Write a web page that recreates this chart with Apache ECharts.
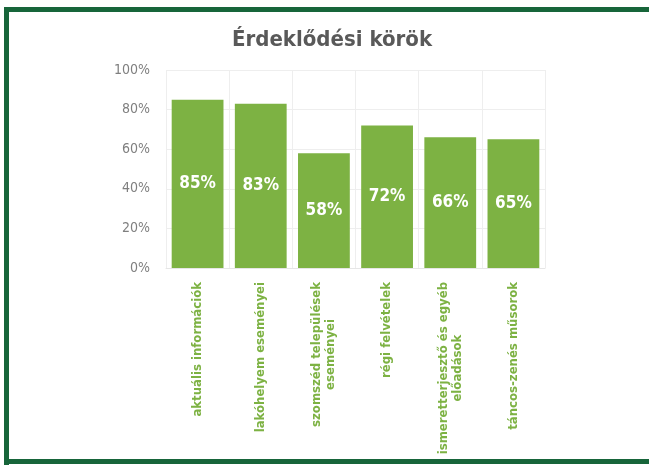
<!DOCTYPE html>
<html>
<head>
<meta charset="utf-8">
<script src="https://cdn.jsdelivr.net/npm/echarts@6/dist/echarts.min.js"></script>
<style>
html,body{margin:0;padding:0;background:#fff;}
#chart{width:649px;height:465px;}
</style>
</head>
<body>
<div id="chart"></div>
<script>
var titleText = 'Érdeklődési körök';
var categories = [
  'aktuális információk',
  'lakóhelyem eseményei',
  'szomszéd települések\neseményei',
  'régi felvételek',
  'ismeretterjesztő és egyéb\nelőadások',
  'táncos-zenés műsorok'
];
var values = [85, 83, 58, 72, 66, 65];
var yTicks = {min: 0, max: 100, interval: 20};

var green = '#7db243';
var frame = '#17653a';
var condensed = '"DejaVu Sans Condensed", Roboto, sans-serif';
var chart = echarts.init(document.getElementById('chart'), null, {renderer: 'canvas'});
chart.setOption({
  animation: false,
  backgroundColor: '#fff',
  title: {
    text: titleText,
    left: 327, top: 24,
    textAlign: 'center',
    textStyle: {fontFamily: condensed, fontWeight: 'bold', fontSize: 22, color: '#595959'}
  },
  graphic: [
    {type: 'rect', shape: {x: 4, y: 7, width: 645, height: 5}, style: {fill: frame}, silent: true},
    {type: 'rect', shape: {x: 4, y: 7, width: 5, height: 458}, style: {fill: frame}, silent: true},
    {type: 'rect', shape: {x: 4, y: 459, width: 645, height: 5}, style: {fill: frame}, silent: true}
  ],
  grid: {left: 166, right: 104, top: 70, bottom: 197, containLabel: false},
  xAxis: {
    type: 'category',
    data: categories,
    axisLine: {show: true, lineStyle: {color: '#e6e6e6'}},
    axisTick: {show: false},
    splitLine: {show: true, interval: 0, lineStyle: {color: '#eeeeee'}},
    axisLabel: {
      interval: 0, rotate: 90, margin: 14,
      color: green, fontWeight: 'bold', fontSize: 13, fontFamily: condensed, lineHeight: 14,
      formatter: function (v) {
        return v.split('\n').map(function (l) { return '{a|' + l + '}'; }).join('\n');
      },
      rich: {a: {align: 'center', color: green, fontWeight: 'bold', fontSize: 13, fontFamily: condensed, lineHeight: 14}}
    }
  },
  yAxis: {
    type: 'value',
    min: yTicks.min, max: yTicks.max, interval: yTicks.interval,
    axisLine: {show: false},
    axisTick: {show: false},
    splitLine: {lineStyle: {color: '#eeeeee'}},
    axisLabel: {
      margin: 16, color: '#7f7f7f', fontSize: 14, fontFamily: condensed,
      formatter: function (v) { return v + '%'; }
    }
  },
  series: [{
    type: 'bar',
    data: values,
    barCategoryGap: '18%',
    itemStyle: {color: green},
    label: {
      show: true, position: 'inside',
      color: '#fff', fontWeight: 'bold', fontSize: 17, fontFamily: condensed,
      formatter: function (p) { return p.value + '%'; }
    }
  }]
});
</script>
</body>
</html>
